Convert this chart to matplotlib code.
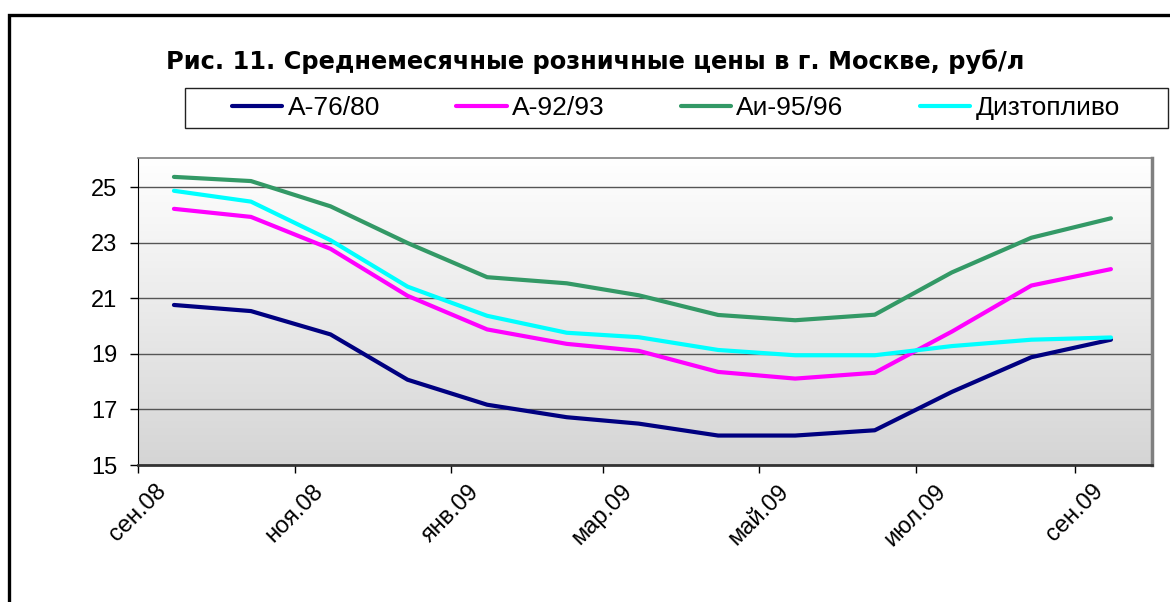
import matplotlib
matplotlib.use("Agg")
import matplotlib.pyplot as plt
import matplotlib.dates as mdates
import numpy as np
import pandas as pd
from matplotlib.patches import Rectangle
from matplotlib.lines import Line2D

plt.rcParams.update({"font.family": "Liberation Sans"})

# --- data -------------------------------------------------------------------
months = pd.date_range("2008-09-01", periods=13, freq="MS")
a76 = [20.76, 20.54, 19.70, 18.07, 17.17, 16.72, 16.49, 16.06, 16.06, 16.25, 17.63, 18.88, 19.51]
a92 = [24.22, 23.93, 22.78, 21.09, 19.88, 19.36, 19.11, 18.35, 18.11, 18.32, 19.80, 21.46, 22.05]
ai95 = [25.37, 25.22, 24.31, 22.99, 21.76, 21.54, 21.11, 20.40, 20.21, 20.41, 21.93, 23.18, 23.88]
diesel = [24.87, 24.48, 23.09, 21.42, 20.37, 19.76, 19.60, 19.14, 18.95, 18.95, 19.28, 19.51, 19.59]
series_names = ["А-76/80", "А-92/93", "Аи-95/96", "Дизтопливо"]
series_colors = ["#000080", "#ff00ff", "#339966", "#00ffff"]
month_abbr = {1: "янв", 3: "мар", 5: "май", 7: "июл", 9: "сен", 11: "ноя"}

W, H = 1170, 602
fig = plt.figure(figsize=(W / 100, H / 100), dpi=100)
fig.patch.set_facecolor("white")

# outer chart frame (only left and top visible)
fig.add_artist(Rectangle((8.5 / W, -0.1), 1.2, 1.1 - 15 / H, transform=fig.transFigure,
                         fill=False, edgecolor="black", lw=2.4))

ax = fig.add_axes([138 / W, 1 - 465 / H, (1152 - 138) / W, (465 - 158) / H])

# gradient plot area
grad = np.linspace(0, 1, 256).reshape(-1, 1)
ax.imshow(grad, extent=[0, 1, 0, 1], transform=ax.transAxes, aspect="auto",
          cmap=matplotlib.colors.LinearSegmentedColormap.from_list("g", ["#d5d5d5", "#ffffff"]),
          origin="lower", zorder=0)

x = months + pd.Timedelta(days=14)
for vals, c in zip([a76, a92, ai95, diesel], series_colors):
    ax.plot(x, vals, color=c, lw=3.0, solid_capstyle="round", solid_joinstyle="round", zorder=3)

ax.set_xlim(pd.Timestamp("2008-09-01"), pd.Timestamp("2009-10-01"))
ax.set_ylim(15, 26.05)
ax.set_yticks([15, 17, 19, 21, 23, 25])
ax.yaxis.grid(True, color="#555555", lw=1.0, zorder=1)
ax.set_axisbelow(True)

ax.xaxis.set_major_locator(mdates.MonthLocator(bymonth=[1, 3, 5, 7, 9, 11]))
ax.xaxis.set_major_formatter(matplotlib.ticker.FuncFormatter(
    lambda v, p: "%s.%s" % (month_abbr[mdates.num2date(v).month], mdates.num2date(v).strftime("%y"))))
ax.tick_params(axis="both", direction="out", length=6, width=1, color="black", labelsize=17)
ax.tick_params(axis="x", pad=5)
ax.tick_params(axis="y", pad=9)
for lab in ax.get_xticklabels():
    lab.set_rotation(45)
    lab.set_ha("center")

for s in ["top", "right"]:
    ax.spines[s].set_color("#808080")
ax.spines["top"].set_linewidth(1.2)
ax.spines["right"].set_linewidth(2.5)
ax.spines["left"].set_color("black")
ax.spines["bottom"].set_color("#333333")
ax.spines["bottom"].set_linewidth(2)

# title
fig.text(595 / W, 1 - 62 / H, "Рис. 11. Среднемесячные розничные цены в г. Москве, руб/л",
         ha="center", va="center", fontsize=17.4, fontweight="bold", family="DejaVu Sans")

# legend box
fig.add_artist(Rectangle((185 / W, 1 - 128 / H), (1168 - 185) / W, 40 / H,
                         transform=fig.transFigure, fill=False, edgecolor="#222222", lw=1))
handles = [Line2D([], [], color=c, lw=3.0, solid_capstyle="round") for c in series_colors]
fig.legend(handles, series_names, loc="center", bbox_to_anchor=(676 / W, 1 - 108 / H),
           ncol=4, frameon=False, fontsize=19, handlelength=1.9, handletextpad=0.2,
           columnspacing=2.9, borderpad=0)

fig.savefig("out.png", dpi=100, facecolor="white")
